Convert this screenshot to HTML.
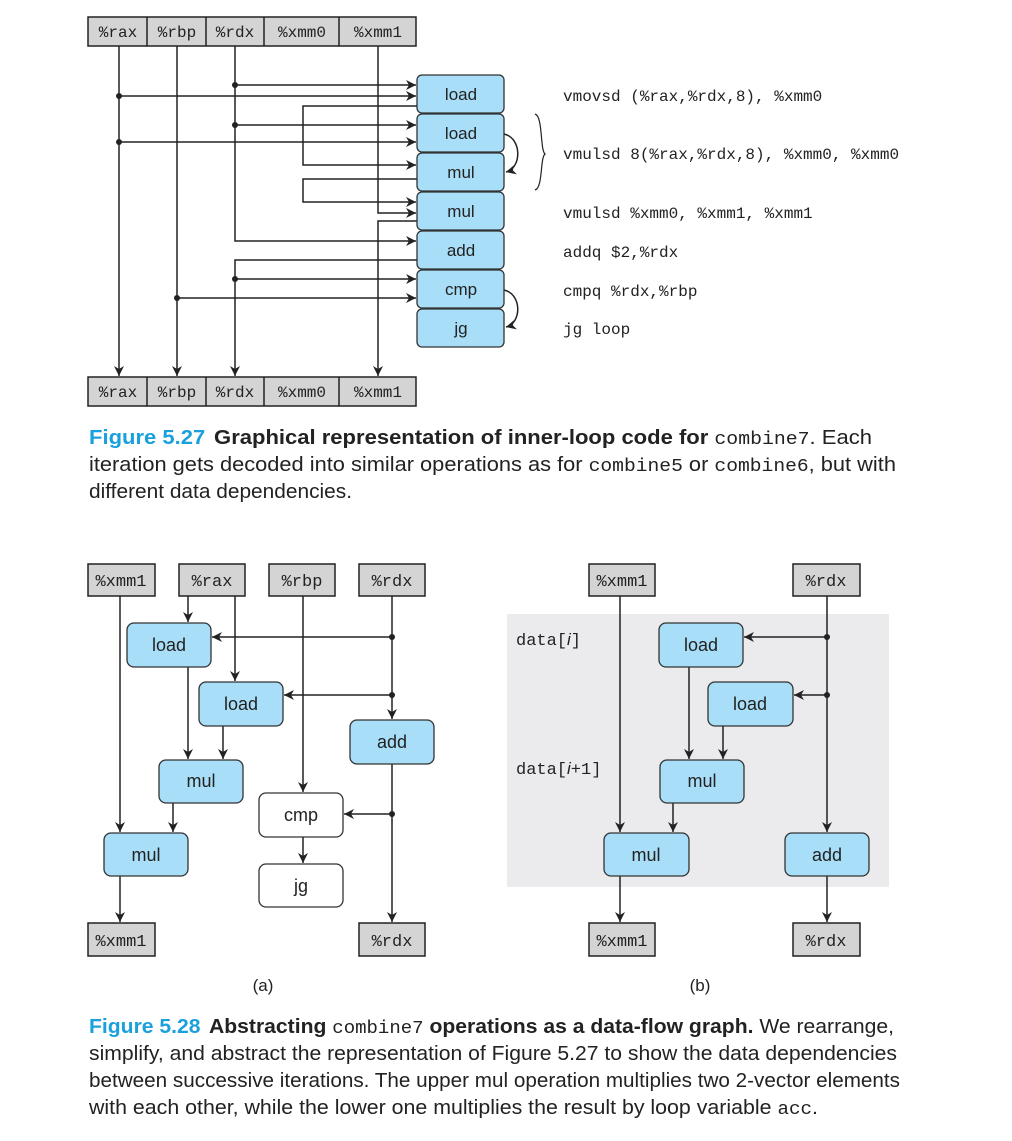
<!DOCTYPE html>
<html><head><meta charset="utf-8"><style>
html,body{margin:0;padding:0;background:#fff;}
svg{display:block;}
.m{font-family:"Liberation Mono",monospace;font-size:16px;fill:#222;}
.s{font-family:"Liberation Sans",sans-serif;font-size:17px;fill:#222;}
.c{font-family:"Liberation Sans Narrow","Liberation Sans",sans-serif;font-size:20px;fill:#222;}
.cb{font-weight:bold;}
.bl{fill:#1aa0dc;font-weight:bold;}
.cm{font-family:"Liberation Mono",monospace;font-size:18px;}
</style></head><body>
<svg width="1012" height="1141" viewBox="0 0 1012 1141" xmlns="http://www.w3.org/2000/svg">
<defs>
<marker id="a" viewBox="0 0 10 10" refX="10" refY="5" markerWidth="10" markerHeight="10" markerUnits="userSpaceOnUse" orient="auto"><path d="M0,0 L10,5 L0,10 L3,5 z" fill="#222"/></marker>
</defs>
<g stroke="#222" stroke-width="1.5" fill="none">
<rect x="88" y="17" width="328" height="29" fill="#d4d4d4"/>
<path d="M147 17V46M206 17V46M264 17V46M339 17V46"/>
<rect x="88" y="377" width="328" height="29" fill="#d4d4d4"/>
<path d="M147 377V406M206 377V406M264 377V406M339 377V406"/>
</g>
<g class="m" text-anchor="middle">
<text x="118" y="37">%rax</text><text x="177" y="37">%rbp</text><text x="235" y="37">%rdx</text><text x="302" y="37">%xmm0</text><text x="378" y="37">%xmm1</text>
<text x="118" y="397">%rax</text><text x="177" y="397">%rbp</text><text x="235" y="397">%rdx</text><text x="302" y="397">%xmm0</text><text x="378" y="397">%xmm1</text>
</g>
<g stroke="#222" stroke-width="1.5" fill="none" marker-end="url(#a)">
<path d="M119 46V376"/>
<path d="M177 46V376"/>
<path d="M235 46V241H416"/>
<path d="M417 260H235V376"/>
<path d="M378 46V213H416"/>
<path d="M417 221H378V376"/>
<path d="M235 85H416"/><path d="M119 96H416"/>
<path d="M417 106H303V165H416"/>
<path d="M235 125H416"/><path d="M119 142H416"/>
<path d="M417 179H303V202H416"/>
<path d="M235 279H416"/><path d="M177 298H416"/>
<path d="M504 134 C522 138 522 168 506 172"/>
<path d="M504 290 C522 294 522 323 506 327"/>
</g>
<g fill="#222"><circle cx="235" cy="85" r="3"/><circle cx="119" cy="96" r="3"/><circle cx="235" cy="125" r="3"/><circle cx="119" cy="142" r="3"/><circle cx="235" cy="279" r="3"/><circle cx="177" cy="298" r="3"/></g>
<g fill="#a9def8" stroke="#333" stroke-width="1.3">
<rect x="417" y="75" width="87" height="38" rx="5"/>
<rect x="417" y="114" width="87" height="38" rx="5"/>
<rect x="417" y="153" width="87" height="38" rx="5"/>
<rect x="417" y="192" width="87" height="38" rx="5"/>
<rect x="417" y="231" width="87" height="38" rx="5"/>
<rect x="417" y="270" width="87" height="38" rx="5"/>
<rect x="417" y="309" width="87" height="38" rx="5"/>
</g>
<g class="s" text-anchor="middle">
<text x="461" y="100">load</text><text x="461" y="139">load</text><text x="461" y="178">mul</text><text x="461" y="217">mul</text><text x="461" y="256">add</text><text x="461" y="295">cmp</text><text x="461" y="334">jg</text>
</g>
<path d="M535 114 C543 116 540 150 545 154 C540 158 543 188 535 190" stroke="#222" stroke-width="1.2" fill="none"/>
<g class="m">
<text x="563" y="101">vmovsd (%rax,%rdx,8), %xmm0</text>
<text x="563" y="159">vmulsd 8(%rax,%rdx,8), %xmm0, %xmm0</text>
<text x="563" y="218">vmulsd %xmm0, %xmm1, %xmm1</text>
<text x="563" y="257">addq $2,%rdx</text>
<text x="563" y="296">cmpq %rdx,%rbp</text>
<text x="563" y="334">jg loop</text>
</g>
<text class="c" x="89" y="444" textLength="783" lengthAdjust="spacingAndGlyphs"><tspan class="bl">Figure 5.27</tspan><tspan class="cb" dx="8">Graphical representation of inner-loop code for</tspan> <tspan class="cm">combine7</tspan>. Each</text>
<text class="c" x="89" y="471" textLength="807" lengthAdjust="spacingAndGlyphs">iteration gets decoded into similar operations as for <tspan class="cm">combine5</tspan> or <tspan class="cm">combine6</tspan>, but with</text>
<text class="c" x="89" y="498" textLength="263" lengthAdjust="spacingAndGlyphs">different data dependencies.</text>

<rect x="507" y="614" width="382" height="273" fill="#ebebed"/>
<g stroke="#222" stroke-width="1.5" fill="#d4d4d4">
<rect x="88" y="564" width="67" height="32"/><rect x="179" y="564" width="66" height="32"/><rect x="269" y="564" width="66" height="32"/><rect x="359" y="564" width="66" height="32"/>
<rect x="88" y="923" width="67" height="33"/><rect x="359" y="923" width="66" height="33"/>
<rect x="589" y="564" width="66" height="32"/><rect x="793" y="564" width="67" height="32"/>
<rect x="589" y="923" width="66" height="33"/><rect x="793" y="923" width="67" height="33"/>
</g>
<g class="m" text-anchor="middle" style="font-size:17px">
<text x="121" y="586">%xmm1</text><text x="212" y="586">%rax</text><text x="302" y="586">%rbp</text><text x="392" y="586">%rdx</text>
<text x="121" y="946">%xmm1</text><text x="392" y="946">%rdx</text>
<text x="622" y="586">%xmm1</text><text x="826" y="586">%rdx</text>
<text x="622" y="946">%xmm1</text><text x="826" y="946">%rdx</text>
</g>
<g stroke="#222" stroke-width="1.5" fill="none" marker-end="url(#a)">
<path d="M120 596V832"/><path d="M188 596V622"/><path d="M235 596V681"/><path d="M303 596V792"/>
<path d="M392 596V719"/><path d="M392 637H212"/><path d="M392 695H284"/>
<path d="M392 764V922"/><path d="M392 814H344"/>
<path d="M188 667V759"/><path d="M223 726V759"/><path d="M173 803V832"/><path d="M120 876V922"/><path d="M303 837V863"/>
<path d="M620 596V832"/><path d="M827 596V832"/><path d="M827 637H744"/><path d="M827 695H794"/>
<path d="M689 667V759"/><path d="M723 726V759"/><path d="M673 803V832"/><path d="M620 876V922"/><path d="M827 876V922"/>
</g>
<g fill="#222"><circle cx="392" cy="637" r="3"/><circle cx="392" cy="695" r="3"/><circle cx="392" cy="814" r="3"/><circle cx="827" cy="637" r="3"/><circle cx="827" cy="695" r="3"/></g>
<g fill="#a9def8" stroke="#333" stroke-width="1.3">
<rect x="127" y="623" width="84" height="44" rx="7"/>
<rect x="199" y="682" width="84" height="44" rx="7"/>
<rect x="350" y="720" width="84" height="44" rx="7"/>
<rect x="159" y="760" width="84" height="43" rx="7"/>
<rect x="104" y="833" width="84" height="43" rx="7"/>
<rect x="259" y="793" width="84" height="44" rx="7" fill="#fff"/>
<rect x="259" y="864" width="84" height="43" rx="7" fill="#fff"/>
<rect x="659" y="623" width="84" height="44" rx="7"/>
<rect x="708" y="682" width="85" height="44" rx="7"/>
<rect x="660" y="760" width="84" height="43" rx="7"/>
<rect x="604" y="833" width="85" height="43" rx="7"/>
<rect x="785" y="833" width="84" height="43" rx="7"/>
</g>
<g class="s" text-anchor="middle" style="font-size:18px">
<text x="169" y="651">load</text><text x="241" y="710">load</text><text x="392" y="748">add</text><text x="201" y="787">mul</text><text x="146" y="861">mul</text><text x="301" y="821">cmp</text><text x="301" y="892">jg</text>
<text x="701" y="651">load</text><text x="750" y="710">load</text><text x="702" y="787">mul</text><text x="646" y="861">mul</text><text x="827" y="861">add</text>
</g>
<text class="m" x="516" y="645" style="font-size:17px">data[<tspan font-family="Liberation Sans" font-style="italic">i</tspan>]</text>
<text class="m" x="516" y="774" style="font-size:17px">data[<tspan font-family="Liberation Sans" font-style="italic">i</tspan>+1]</text>
<text class="s" x="263" y="991" text-anchor="middle">(a)</text>
<text class="s" x="700" y="991" text-anchor="middle">(b)</text>

<text class="c" x="89" y="1033" textLength="805" lengthAdjust="spacingAndGlyphs"><tspan class="bl">Figure 5.28</tspan><tspan class="cb" dx="8">Abstracting</tspan> <tspan class="cm">combine7</tspan> <tspan class="cb">operations as a data-flow graph.</tspan> We rearrange,</text>
<text class="c" x="89" y="1060" textLength="808" lengthAdjust="spacingAndGlyphs">simplify, and abstract the representation of Figure 5.27 to show the data dependencies</text>
<text class="c" x="89" y="1087" textLength="811" lengthAdjust="spacingAndGlyphs">between successive iterations. The upper mul operation multiplies two 2-vector elements</text>
<text class="c" x="89" y="1114" textLength="729" lengthAdjust="spacingAndGlyphs">with each other, while the lower one multiplies the result by loop variable <tspan class="cm">acc</tspan>.</text>
</svg>
</body></html>
